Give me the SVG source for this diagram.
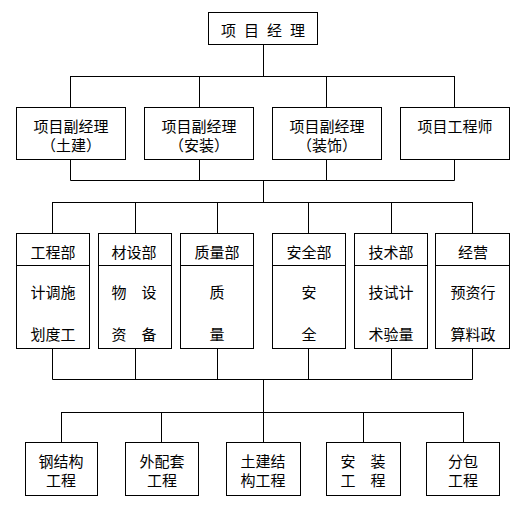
<svg xmlns="http://www.w3.org/2000/svg" width="532" height="508" viewBox="0 0 532 508">
<style>
rect{fill:#fff;stroke:#000;stroke-width:1}
.c line,.d{stroke:#000;stroke-width:1}
text{font-family:"Noto Sans CJK SC","Noto Sans CJK TC",sans-serif;font-size:15px;fill:#000;text-anchor:middle;dominant-baseline:central}
</style>
<rect x="0" y="0" width="532" height="508" style="stroke:none"/>
<g class="c" id="connectors">
<line x1="263.5" y1="44" x2="263.5" y2="76.5"/>
<line x1="70.5" y1="76.5" x2="454.5" y2="76.5"/>
<line x1="70.5" y1="76" x2="70.5" y2="107"/>
<line x1="199.5" y1="76" x2="199.5" y2="107"/>
<line x1="326.5" y1="76" x2="326.5" y2="107"/>
<line x1="454.5" y1="76" x2="454.5" y2="107"/>
<line x1="70.5" y1="159" x2="70.5" y2="180.5"/>
<line x1="199.5" y1="159" x2="199.5" y2="180.5"/>
<line x1="326.5" y1="159" x2="326.5" y2="180.5"/>
<line x1="454.5" y1="159" x2="454.5" y2="180.5"/>
<line x1="70.5" y1="180.5" x2="454.5" y2="180.5"/>
<line x1="263.5" y1="180" x2="263.5" y2="202.5"/>
<line x1="52.5" y1="202.5" x2="472.5" y2="202.5"/>
<line x1="52.5" y1="202" x2="52.5" y2="233"/>
<line x1="135.5" y1="202" x2="135.5" y2="233"/>
<line x1="217.5" y1="202" x2="217.5" y2="233"/>
<line x1="308.5" y1="202" x2="308.5" y2="233"/>
<line x1="391.5" y1="202" x2="391.5" y2="233"/>
<line x1="472.5" y1="202" x2="472.5" y2="233"/>
<line x1="52.5" y1="348" x2="52.5" y2="379.5"/>
<line x1="135.5" y1="348" x2="135.5" y2="379.5"/>
<line x1="217.5" y1="348" x2="217.5" y2="379.5"/>
<line x1="308.5" y1="348" x2="308.5" y2="379.5"/>
<line x1="391.5" y1="348" x2="391.5" y2="379.5"/>
<line x1="472.5" y1="348" x2="472.5" y2="379.5"/>
<line x1="52.5" y1="379.5" x2="472.5" y2="379.5"/>
<line x1="263.5" y1="379" x2="263.5" y2="412.5"/>
<line x1="61.5" y1="412.5" x2="463.5" y2="412.5"/>
<line x1="61.5" y1="412" x2="61.5" y2="442"/>
<line x1="161.5" y1="412" x2="161.5" y2="442"/>
<line x1="263.5" y1="412" x2="263.5" y2="442"/>
<line x1="363.5" y1="412" x2="363.5" y2="442"/>
<line x1="463.5" y1="412" x2="463.5" y2="442"/>
</g>
<g id="pm"><rect x="208.5" y="12.5" width="109" height="32"/><text x="267" y="29" style="letter-spacing:8px">项目经理</text></g>
<g id="dpm1"><rect x="16.5" y="107.5" width="109" height="52"/><text x="71" y="125">项目副经理</text><text x="71" y="144">（土建）</text></g>
<g id="dpm2"><rect x="144.5" y="107.5" width="109" height="52"/><text x="199" y="125">项目副经理</text><text x="199" y="144">（安装）</text></g>
<g id="dpm3"><rect x="272.5" y="107.5" width="109" height="52"/><text x="327" y="125">项目副经理</text><text x="327" y="144">（装饰）</text></g>
<g id="eng"><rect x="400.5" y="107.5" width="109" height="52"/><text x="455" y="125">项目工程师</text></g>
<g id="d1"><rect x="16.5" y="233.5" width="73" height="115"/><line class="d" x1="16.5" y1="265.5" x2="89.5" y2="265.5"/><text x="53" y="251">工程部</text><text x="53" y="291">计调施</text><text x="53" y="333">划度工</text></g>
<g id="d2"><rect x="98.5" y="233.5" width="73" height="115"/><line class="d" x1="98.5" y1="265.5" x2="171.5" y2="265.5"/><text x="134" y="251">材设部</text><text x="134" y="291">物　设</text><text x="134" y="333">资　备</text></g>
<g id="d3"><rect x="180.5" y="233.5" width="73" height="115"/><line class="d" x1="180.5" y1="265.5" x2="253.5" y2="265.5"/><text x="217" y="251">质量部</text><text x="217" y="291">质</text><text x="217" y="333">量</text></g>
<g id="d4"><rect x="272.5" y="233.5" width="73" height="115"/><line class="d" x1="272.5" y1="265.5" x2="345.5" y2="265.5"/><text x="309" y="251">安全部</text><text x="309" y="291">安</text><text x="309" y="333">全</text></g>
<g id="d5"><rect x="354.5" y="233.5" width="73" height="115"/><line class="d" x1="354.5" y1="265.5" x2="427.5" y2="265.5"/><text x="391" y="251">技术部</text><text x="391" y="291">技试计</text><text x="391" y="333">术验量</text></g>
<g id="d6"><rect x="435.5" y="233.5" width="74" height="115"/><line class="d" x1="435.5" y1="265.5" x2="509.5" y2="265.5"/><text x="473" y="251">经营</text><text x="473" y="291">预资行</text><text x="473" y="333">算料政</text></g>
<g id="w1"><rect x="25.5" y="442.5" width="72" height="53"/><text x="61" y="460">钢结构</text><text x="61" y="479">工程</text></g>
<g id="w2"><rect x="125.5" y="442.5" width="73" height="53"/><text x="162" y="460">外配套</text><text x="162" y="479">工程</text></g>
<g id="w3"><rect x="226.5" y="442.5" width="74" height="53"/><text x="263" y="460">土建结</text><text x="263" y="479">构工程</text></g>
<g id="w4"><rect x="326.5" y="442.5" width="74" height="53"/><text x="363" y="460">安　装</text><text x="363" y="479">工　程</text></g>
<g id="w5"><rect x="426.5" y="442.5" width="73" height="53"/><text x="463" y="460">分包</text><text x="463" y="479">工程</text></g>
</svg>
